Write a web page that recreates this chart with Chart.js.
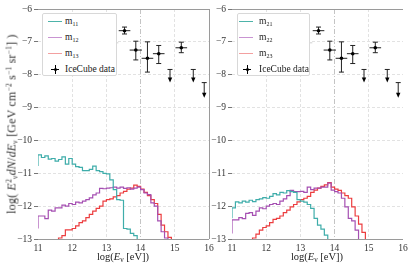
<!DOCTYPE html>
<html>
<head>
<meta charset="utf-8">
<script src="https://cdn.jsdelivr.net/npm/chart.js@4.4.1/dist/chart.umd.min.js"></script>
<style>
  body { margin: 0; background: #fff; }
  #wrap { position: relative; width: 415px; height: 268px; overflow: hidden; font-family: "Liberation Serif", serif; color: #222; }
  canvas { position: absolute; top: 0; }
  .leg { position: absolute; background: #fff; border: 1px solid #d8d8d8; border-radius: 2px; font-size: 9.5px; }
  .leg .ln { position: absolute; height: 1.4px; width: 14px; }
  .leg .tx { position: absolute; line-height: 10px; }
  .leg sub { font-size: 6px; vertical-align: -2px; }
  .xt { position: absolute; top: 251px; width: 100px; text-align: center; font-size: 10.5px; }
  .xt sub, .yt sub { font-size: 7.5px; vertical-align: -2px; }
  .yt sup { font-size: 7.5px; vertical-align: 4px; }
  .yt { position: absolute; left: 12px; top: 124px; white-space: nowrap; font-size: 12px; letter-spacing: 0.2px; color: #333; transform: translate(-50%, -50%) rotate(-90deg); }
  .mk { position: absolute; background: #000; }
</style>
</head>
<body>
<div id="wrap">
  <canvas id="left" width="215" height="268" style="left:0"></canvas>
  <canvas id="right" width="220" height="268" style="left:195px"></canvas>

  <div class="yt">log( <i>E</i><sup>2</sup><sub>ν</sub><i>dN</i>/<i>dE</i><sub>ν</sub> [GeV cm<sup>−2</sup> s<sup>−1</sup> sr<sup>−1</sup>] )</div>
  <div class="xt" style="left:73px">log(<i>E</i><sub>ν</sub> [eV])</div>
  <div class="xt" style="left:267px">log(<i>E</i><sub>ν</sub> [eV])</div>

  <div class="leg" style="left:42px;top:13px;width:73px;height:61px">
    <div class="ln" style="left:5px;top:7px;background:#4db3a9"></div><div class="tx" style="left:22px;top:2px">m<sub>11</sub></div>
    <div class="ln" style="left:5px;top:23px;background:#c994d2"></div><div class="tx" style="left:22px;top:18px">m<sub>12</sub></div>
    <div class="ln" style="left:5px;top:39px;background:#f3a0a0"></div><div class="tx" style="left:22px;top:34px">m<sub>13</sub></div>
    <div class="mk" style="left:8px;top:55px;width:8px;height:1px"></div><div class="mk" style="left:11.5px;top:51px;width:1px;height:9px"></div><div class="mk" style="left:10.5px;top:54px;width:3px;height:3px;border-radius:2px"></div>
    <div class="tx" style="left:22px;top:50px">IceCube data</div>
  </div>
  <div class="leg" style="left:237px;top:13px;width:71px;height:61px">
    <div class="ln" style="left:1px;top:7px;background:#4db3a9"></div><div class="tx" style="left:21px;top:2px">m<sub>21</sub></div>
    <div class="ln" style="left:1px;top:23px;background:#c994d2"></div><div class="tx" style="left:21px;top:18px">m<sub>22</sub></div>
    <div class="ln" style="left:1px;top:39px;background:#f3a0a0"></div><div class="tx" style="left:21px;top:34px">m<sub>23</sub></div>
    <div class="mk" style="left:5px;top:55px;width:8px;height:1px"></div><div class="mk" style="left:8.5px;top:51px;width:1px;height:9px"></div><div class="mk" style="left:7.5px;top:54px;width:3px;height:3px;border-radius:2px"></div>
    <div class="tx" style="left:21px;top:50px">IceCube data</div>
  </div>
</div>

<script>
// histogram bin edges, log10(E / eV)
const binEdges = [11.0, 11.1, 11.2, 11.3, 11.4, 11.5, 11.6, 11.7, 11.8, 11.9,
  12.0, 12.1, 12.2, 12.3, 12.4, 12.5, 12.6, 12.7, 12.8, 12.9,
  13.0, 13.1, 13.2, 13.3, 13.4, 13.5, 13.6, 13.7, 13.8, 13.9,
  14.0, 14.1, 14.2, 14.3, 14.4, 14.5, 14.6, 14.7, 14.8, 14.9, 15.0];

// left panel (value of each bin starting at binEdges[i]; -13.5 = below the axis)
const m11 = [-10.78, -10.44, -10.52, -10.47, -10.57, -10.55, -10.63, -10.58, -10.50, -10.72,
  -10.55, -10.72, -10.80, -10.82, -10.92, -10.92, -10.88, -10.78, -10.92, -10.95,
  -11.00, -11.02, -11.20, -11.50, -11.80, -11.82, -12.68, -12.70, -12.83, -12.90,
  -13.5, null, null, null, null, null, null, null, null, null, null];
const m12 = [-12.68, -12.30, -12.30, -12.38, -12.12, -12.15, -12.05, -12.05, -11.97, -12.00,
  -11.92, -11.95, -11.88, -11.90, -11.85, -11.80, -11.75, -11.66, -11.60, -11.46,
  -11.47, -11.45, -11.44, -11.42, -11.45, -11.42, -11.46, -11.44, -11.48, -11.45,
  -11.42, -11.50, -11.60, -11.65, -11.90, -12.00, -12.45, -12.78, -12.97, -13.5, null];
const m13 = [null, null, null, null, null, null, -13.5, -12.97, -12.90, -12.72,
  -12.72, -12.68, -12.60, -12.50, -12.45, -12.35, -12.25, -12.15, -12.07, -12.00,
  -11.85, -11.80, -11.78, -11.72, -11.68, -11.60, -11.55, -11.48, -11.45, -11.36,
  -11.40, -11.48, -11.58, -11.68, -11.80, -11.92, -12.25, -12.58, -12.78, -12.95, -13.5];

// right panel
const m21 = [-12.37, -12.05, -11.87, -11.90, -11.85, -11.88, -11.82, -11.86, -11.80, -11.78,
  -11.74, -11.76, -11.70, -11.62, -11.66, -11.58, -11.60, -11.53, -11.56, -11.58,
  -11.80, -11.85, -11.88, -11.95, -12.07, -12.37, -12.58, -12.70, -12.88, -13.5,
  null, null, null, null, null, null, null, null, null, null, null];
const m22 = [-12.83, -12.42, -12.42, -12.35, -12.38, -12.22, -12.20, -12.28, -12.15, -12.05,
  -12.08, -12.00, -11.95, -11.92, -11.95, -11.85, -11.78, -11.68, -11.52, -11.56,
  -11.56, -11.55, -11.58, -11.42, -11.50, -11.45, -11.45, -11.42, -11.42, -11.30,
  -11.51, -11.56, -11.60, -11.76, -12.02, -12.37, -12.45, -12.73, -13.5, null, null];
const m23 = [null, null, null, null, null, null, -13.5, -12.97, -12.85, -12.73,
  -12.65, -12.60, -12.50, -12.40, -12.37, -12.30, -12.20, -12.12, -12.02, -11.95,
  -11.87, -11.80, -11.76, -11.70, -11.58, -11.51, -11.45, -11.40, -11.35, -11.28,
  -11.42, -11.48, -11.52, -11.60, -11.68, -11.76, -12.02, -12.30, -12.55, -12.80, -13.5];

// IceCube data points
const iceX    = [13.53, 13.86, 14.20, 14.53, 15.19];
const iceY    = [-6.66, -7.25, -7.50, -7.36, -7.18];
const iceYHi  = [-6.55, -6.98, -7.00, -7.11, -7.01];
const iceYLo  = [-6.76, -7.55, -7.92, -7.66, -7.33];
const iceXErr = [0.17, 0.18, 0.17, 0.17, 0.17];
// upper limits
const ulX   = [14.86, 15.54, 15.86];
const ulY   = [-7.84, -7.84, -8.24];
const ulTip = [-8.24, -8.24, -8.70];
// faint grey point
const greyX = [13.20], greyY = [-7.03], greyYHi = [-6.55], greyYLo = [-7.60], greyXErr = [0.15];

const xTicks = [11, 12, 13, 14, 15, 16];
const yTicks = [-6, -7, -8, -9, -10, -11, -12, -13];

const steps = vals => vals.map((v, i) => ({ x: binEdges[i], y: v }));

const errorBars = {
  id: 'errorBars',
  beforeDatasetsDraw(chart) {
    const { ctx, scales: { x, y } } = chart;
    const cap = 2.5;
    function bar(px, py, hi, lo, xe, col) {
      ctx.strokeStyle = col; ctx.lineWidth = 1;
      ctx.beginPath();
      const X = x.getPixelForValue(px), Y = y.getPixelForValue(py);
      ctx.moveTo(x.getPixelForValue(px - xe), Y); ctx.lineTo(x.getPixelForValue(px + xe), Y);
      const t = y.getPixelForValue(hi), b = y.getPixelForValue(lo);
      ctx.moveTo(X, t); ctx.lineTo(X, b);
      ctx.moveTo(X - cap, t); ctx.lineTo(X + cap, t);
      ctx.moveTo(X - cap, b); ctx.lineTo(X + cap, b);
      ctx.stroke();
    }
    ctx.save();
    greyX.forEach((v, i) => bar(v, greyY[i], greyYHi[i], greyYLo[i], greyXErr[i], '#d0d0d0'));
    iceX.forEach((v, i) => bar(v, iceY[i], iceYHi[i], iceYLo[i], iceXErr[i], '#222'));
    ulX.forEach((v, i) => {
      const X = x.getPixelForValue(v), t = y.getPixelForValue(ulY[i]), b = y.getPixelForValue(ulTip[i]);
      ctx.strokeStyle = '#222'; ctx.fillStyle = '#000'; ctx.lineWidth = 1;
      ctx.beginPath();
      ctx.moveTo(X - cap, t); ctx.lineTo(X + cap, t);
      ctx.moveTo(X, t); ctx.lineTo(X, b - 4);
      ctx.stroke();
      ctx.beginPath();
      ctx.moveTo(X - 2.2, b - 5); ctx.lineTo(X + 2.2, b - 5); ctx.lineTo(X, b);
      ctx.closePath(); ctx.fill();
    });
    ctx.restore();
  }
};

const spines = {
  id: 'spines',
  afterDraw(chart, args, opts) {
    const { ctx, chartArea: a } = chart;
    ctx.save();
    ctx.strokeStyle = '#9a9a9a'; ctx.lineWidth = 1;
    ctx.beginPath();
    ctx.moveTo(a.left, a.top + 0.5); ctx.lineTo(a.right, a.top + 0.5);
    ctx.moveTo(a.left, a.bottom + 0.5); ctx.lineTo(a.right, a.bottom + 0.5);
    if (opts.right) { ctx.moveTo(a.right + 0.5, a.top); ctx.lineTo(a.right + 0.5, a.bottom); }
    ctx.stroke();
    ctx.restore();
  }
};

function setupChart(canvas, curves, yWidth, padRight, rightSpine) {
  const colors = ['#3fadaa', '#a54fb2', '#ec3d3f'];
  const tickFont = { family: 'Liberation Serif', size: 9.5 };
  return new Chart(canvas, {
    type: 'line',
    data: {
      datasets: [
        ...curves.map((c, i) => ({
          data: steps(c), stepped: 'after', borderColor: colors[i], borderWidth: 1.2,
          pointRadius: 0, fill: false, spanGaps: false
        })),
        { type: 'scatter', data: greyX.map((v, i) => ({ x: v, y: greyY[i] })), pointRadius: 1.5, backgroundColor: '#d0d0d0', borderWidth: 0 },
        { type: 'scatter', data: iceX.map((v, i) => ({ x: v, y: iceY[i] })), pointRadius: 1.8, backgroundColor: '#000', borderWidth: 0 }
      ]
    },
    options: {
      responsive: false,
      animation: false,
      layout: { autoPadding: false, padding: { top: 9, right: padRight, left: 0, bottom: 0 } },
      plugins: { legend: { display: false }, tooltip: { enabled: false }, spines: { right: rightSpine } },
      scales: {
        x: {
          type: 'linear', min: 11, max: 16,
          afterFit: s => { s.height = 29; },
          afterBuildTicks: s => { s.ticks = xTicks.map(v => ({ value: v })); },
          ticks: { font: tickFont, color: '#333', padding: 1, maxRotation: 0 },
          border: { display: false, dash: ctx => ctx.tick && ctx.tick.value === 14 ? [5, 2, 1, 2] : [3, 2] },
          grid: {
            color: ctx => (ctx.tick.value === 11 || ctx.tick.value === 16) ? 'rgba(0,0,0,0)' : (ctx.tick.value === 14 ? '#c4c4c4' : '#e2e2e2'),
            tickColor: 'rgba(0,0,0,0)', tickLength: 3, lineWidth: 1
          }
        },
        y: {
          min: -13, max: -6,
          afterFit: s => { s.width = yWidth; },
          afterBuildTicks: s => { s.ticks = yTicks.map(v => ({ value: v })); },
          ticks: { font: tickFont, color: '#333', padding: 2, callback: v => String(v).replace('-', '\u2212') },
          border: { display: false, dash: [3, 2] },
          grid: {
            color: ctx => (ctx.tick.value === -6 || ctx.tick.value === -13) ? 'rgba(0,0,0,0)' : '#e2e2e2',
            tickColor: '#777', tickLength: 4, lineWidth: 1
          }
        }
      }
    },
    plugins: [errorBars, spines]
  });
}

setupChart(document.getElementById('left'), [m11, m12, m13], 38, 6, true);
setupChart(document.getElementById('right'), [m21, m22, m23], 37, 12, false);
</script>
</body>
</html>
